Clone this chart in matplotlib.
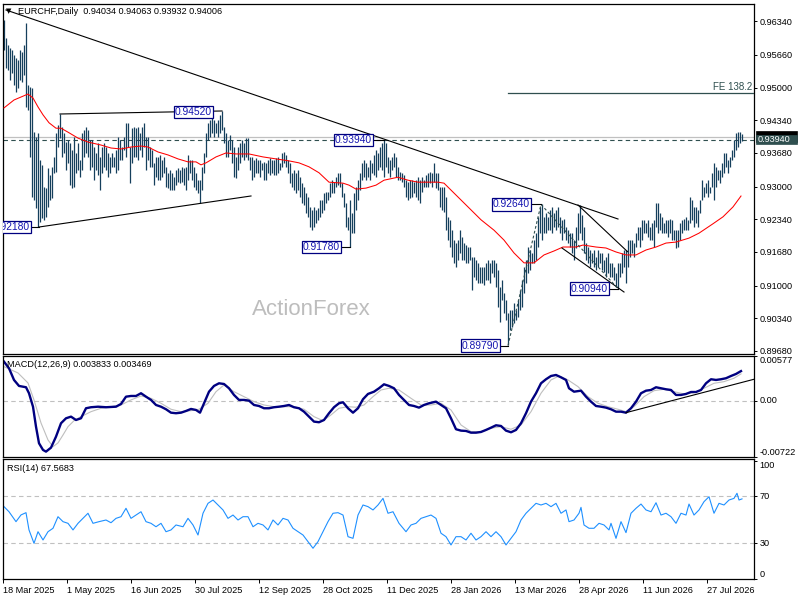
import numpy as np
import matplotlib
matplotlib.use('Agg')
import matplotlib.pyplot as plt
import matplotlib.transforms as mtransforms
from matplotlib.patches import Rectangle

plt.rcParams['font.family'] = ['Liberation Sans', 'DejaVu Sans']

# ---- daily bars, prices in 1e-4 (pips) ----
bar_high = [
    9637, 9600, 9586, 9580, 9576, 9566, 9560, 9556, 9576, 9572,
    9586, 9631, 9505, 9501, 9499, 9410, 9400, 9408, 9354, 9344,
    9299, 9297, 9338, 9324, 9340, 9360, 9408, 9425, 9447, 9420,
    9408, 9390, 9394, 9388, 9374, 9400, 9368, 9388, 9354, 9408,
    9414, 9420, 9414, 9394, 9394, 9380, 9368, 9388, 9360, 9380,
    9388, 9380, 9368, 9360, 9368, 9360, 9374, 9400, 9394, 9380,
    9400, 9428, 9428, 9380, 9418, 9420, 9418, 9420, 9408, 9420,
    9428, 9400, 9400, 9380, 9374, 9348, 9360, 9360, 9364, 9354,
    9360, 9340, 9328, 9334, 9328, 9319, 9334, 9338, 9334, 9340,
    9338, 9340, 9364, 9354, 9354, 9340, 9328, 9313, 9313, 9340,
    9368, 9408, 9428, 9435, 9441, 9435, 9428, 9435, 9445, 9453,
    9420, 9408, 9394, 9404, 9394, 9380, 9360, 9380, 9388, 9394,
    9388, 9398, 9398, 9360, 9360, 9354, 9358, 9354, 9354, 9348,
    9350, 9348, 9354, 9358, 9354, 9354, 9358, 9360, 9348, 9368,
    9370, 9364, 9354, 9348, 9328, 9334, 9328, 9334, 9319, 9307,
    9299, 9287, 9279, 9259, 9253, 9259, 9253, 9257, 9273, 9273,
    9287, 9289, 9289, 9307, 9313, 9309, 9319, 9328, 9328, 9307,
    9287, 9267, 9239, 9273, 9247, 9287, 9299, 9313, 9328, 9348,
    9354, 9348, 9340, 9354, 9348, 9364, 9374, 9368, 9380, 9388,
    9394, 9388, 9360, 9354, 9360, 9368, 9360, 9340, 9330, 9328,
    9324, 9313, 9309, 9313, 9313, 9309, 9313, 9319, 9313, 9319,
    9313, 9324, 9328, 9330, 9328, 9348, 9328, 9328, 9299, 9299,
    9299, 9279, 9239, 9233, 9212, 9192, 9186, 9192, 9212, 9198,
    9186, 9182, 9178, 9178, 9158, 9158, 9152, 9146, 9138, 9138,
    9138, 9146, 9152, 9146, 9152, 9152, 9146, 9132, 9097, 9111,
    9085, 9071, 9045, 9051, 9051, 9065, 9051, 9071, 9091, 9111,
    9138, 9152, 9178, 9172, 9166, 9192, 9206, 9239, 9259, 9264,
    9239, 9247, 9239, 9253, 9259, 9247, 9253, 9259, 9239, 9233,
    9235, 9218, 9212, 9206, 9206, 9192, 9218, 9247, 9263, 9243,
    9218, 9186, 9178, 9172, 9166, 9172, 9158, 9172, 9166, 9166,
    9152, 9158, 9166, 9146, 9146, 9138, 9126, 9146, 9146, 9166,
    9172, 9172, 9192, 9192, 9192, 9186, 9206, 9218, 9218, 9233,
    9233, 9227, 9233, 9218, 9227, 9233, 9267, 9267, 9247, 9239,
    9227, 9233, 9233, 9235, 9233, 9212, 9212, 9212, 9227, 9233,
    9235, 9239, 9233, 9279, 9273, 9259, 9259, 9253, 9273, 9313,
    9299, 9307, 9313, 9299, 9328, 9348, 9340, 9334, 9334, 9348,
    9368, 9368, 9354, 9360, 9374, 9394, 9408, 9410, 9410, 9406,
]
bar_low = [
    9576, 9540, 9536, 9515, 9530, 9505, 9491, 9499, 9515, 9511,
    9526, 9461, 9455, 9360, 9279, 9273, 9257, 9218, 9229, 9237,
    9233, 9239, 9259, 9273, 9277, 9328, 9330, 9380, 9398, 9360,
    9368, 9334, 9348, 9303, 9297, 9299, 9328, 9334, 9319, 9334,
    9360, 9368, 9360, 9334, 9340, 9313, 9334, 9324, 9293, 9328,
    9340, 9334, 9319, 9328, 9340, 9340, 9328, 9334, 9354, 9354,
    9374, 9360, 9380, 9307, 9348, 9360, 9360, 9354, 9374, 9360,
    9380, 9334, 9354, 9340, 9340, 9303, 9319, 9313, 9313, 9319,
    9328, 9299, 9297, 9293, 9293, 9293, 9303, 9309, 9307, 9309,
    9303, 9293, 9313, 9328, 9313, 9299, 9293, 9287, 9267, 9293,
    9328, 9360, 9394, 9400, 9408, 9400, 9408, 9400, 9408, 9414,
    9388, 9360, 9360, 9374, 9348, 9319, 9317, 9334, 9348, 9360,
    9354, 9360, 9354, 9334, 9313, 9319, 9328, 9328, 9319, 9334,
    9313, 9313, 9328, 9324, 9328, 9324, 9324, 9328, 9334, 9340,
    9348, 9340, 9328, 9307, 9299, 9293, 9287, 9293, 9279, 9267,
    9263, 9247, 9239, 9218, 9212, 9218, 9227, 9233, 9239, 9247,
    9253, 9267, 9273, 9279, 9287, 9287, 9299, 9303, 9299, 9279,
    9259, 9218, 9212, 9178, 9206, 9206, 9253, 9273, 9293, 9313,
    9319, 9313, 9319, 9313, 9328, 9324, 9319, 9334, 9340, 9334,
    9319, 9340, 9328, 9319, 9334, 9340, 9319, 9313, 9313, 9309,
    9299, 9279, 9273, 9277, 9279, 9287, 9279, 9273, 9267, 9289,
    9299, 9299, 9299, 9307, 9299, 9309, 9297, 9293, 9259, 9253,
    9249, 9212, 9192, 9178, 9158, 9146, 9138, 9152, 9166, 9152,
    9152, 9146, 9146, 9152, 9091, 9118, 9111, 9105, 9105, 9105,
    9101, 9111, 9111, 9105, 9126, 9118, 9097, 9057, 9027, 9071,
    9045, 9031, 8980, 9010, 9017, 9025, 9031, 9037, 9051, 9057,
    9085, 9105, 9126, 9132, 9146, 9146, 9152, 9178, 9206, 9192,
    9206, 9206, 9212, 9212, 9206, 9218, 9212, 9218, 9206, 9192,
    9206, 9192, 9186, 9178, 9166, 9152, 9176, 9192, 9206, 9192,
    9166, 9152, 9146, 9138, 9146, 9138, 9132, 9138, 9146, 9132,
    9128, 9118, 9126, 9118, 9118, 9111, 9097, 9094, 9118, 9126,
    9138, 9105, 9138, 9158, 9166, 9158, 9178, 9192, 9178, 9192,
    9206, 9206, 9198, 9192, 9192, 9178, 9218, 9206, 9212, 9206,
    9206, 9206, 9198, 9206, 9192, 9192, 9176, 9178, 9192, 9206,
    9212, 9212, 9212, 9227, 9233, 9218, 9227, 9218, 9247, 9273,
    9279, 9287, 9279, 9287, 9299, 9273, 9299, 9313, 9307, 9319,
    9328, 9340, 9328, 9340, 9354, 9360, 9374, 9380, 9388, 9393,
]

# red moving average (bar index, price in pips)
ma_idx = [0, 5, 12, 14.5, 17, 19.5, 22.5, 26, 28.5, 32, 37, 42, 48.5, 53.5, 58.5,
          63.5, 68.5, 72, 77, 82, 87, 92, 96, 98.5, 101, 106, 111, 116, 122.5,
          129.5, 136, 142.5, 147.5, 152.5, 157.5, 162.5, 169.5, 172.5, 176, 181,
          186, 190, 197, 202, 207, 217, 220, 225, 232, 238.5, 245, 250, 255, 260,
          265, 270, 275, 279.5, 286, 289.5, 296, 301, 306, 311, 316, 321, 326,
          331, 336, 342.5, 347.5, 354.5, 359.5, 364.5, 368.5]
ma_val = [9459, 9475, 9487, 9479, 9461, 9445, 9429, 9418, 9418, 9410, 9398, 9390,
          9384, 9378, 9376, 9380, 9382, 9380, 9370, 9364, 9356, 9350, 9350, 9344,
          9348, 9360, 9368, 9366, 9366, 9360, 9356, 9352, 9348, 9340, 9328, 9309,
          9307, 9303, 9295, 9297, 9303, 9313, 9319, 9313, 9309, 9309, 9307, 9287,
          9259, 9233, 9212, 9192, 9166, 9146, 9146, 9162, 9170, 9178, 9178, 9182,
          9178, 9176, 9168, 9162, 9162, 9172, 9178, 9186, 9188, 9196, 9206, 9225,
          9239, 9259, 9281]

# MACD main line (1e-4)
macd_idx = [0, 2.5, 5, 7.5, 11, 12.5, 14.5, 16, 17.5, 19.5, 21, 23.5, 26, 28.5, 31,
            33.5, 36, 38.5, 41, 43.5, 47, 51, 56, 58.5, 61, 63.5, 66, 68.5, 71, 73.5,
            76, 78.5, 81, 83.5, 86, 88.5, 91, 93.5, 96, 98, 100, 102.5, 105, 107.5,
            110, 112.5, 115, 117.5, 120, 122.5, 125, 127.5, 130, 132.5, 135, 137.5,
            140, 142.5, 145, 147.5, 150, 152.5, 155, 157.5, 160, 162.5, 165, 167.5,
            169.5, 172, 174.5, 177, 179.5, 182, 185, 187.5, 190, 192.5, 195, 197.5,
            200, 202.5, 205, 207.5, 210, 212.5, 216, 218.5, 221, 223.5, 226, 228.5,
            231, 233.5, 236, 238.5, 241, 243.5, 246, 248.5, 251, 253.5, 256, 258.5,
            261, 263.5, 266, 268.5, 271, 273.5, 276, 278.5, 281, 282.5, 285, 288.5,
            291, 293.5, 296, 298.5, 301, 303.5, 306, 308.5, 311, 313.5, 316, 318.5,
            321, 323.5, 326, 328.5, 331, 333.5, 336, 338.5, 341, 343.5, 346, 348.5,
            351, 353.5, 356, 358.5, 361, 363.5, 366, 368.5]
macd_val = [50.4, 41.9, 26.9, 19.2, 17.5, 9.8, -7.5, -33.2, -54.5, -63.1, -65.3,
            -60.2, -46, -28.8, -22.4, -20.3, -24.6, -22.4, -9.5, -8.2, -7.5, -8.2,
            -7.5, -4, 5.4, 6.3, 6.3, 9.8, 5.4, 1.2, -5.3, -7.5, -10.8, -15.2, -15.9,
            -15.2, -13, -10.4, -11.7, -15.2, -3.1, 11.8, 19.2, 22.6, 21.7, 16.2, 7.6,
            1.2, 1.2, 0.3, -5.3, -6.6, -9.5, -9.5, -8.2, -7.5, -6.6, -5.3, -8.2,
            -9.5, -13.9, -20.3, -26.7, -27.5, -24.6, -15.9, -8.2, -3.1, -1.8, -9.5,
            -15.2, -9.5, 2.1, 8.9, 11.8, 16.2, 21.3, 19.2, 16.2, 7.6, 1.2, -5.3,
            -6.6, -8.7, -5.3, -3.1, -1, -5.3, -9.5, -22.4, -36.5, -38.3, -38.7,
            -40.9, -40.9, -40, -37.4, -34.5, -31.4, -32.3, -38.3, -40.4, -37.4,
            -28.8, -15.9, -1, 9.8, 22.6, 27.8, 32, 33.3, 30.3, 26.9, 16.2, 11.8,
            13.1, 5.4, -1, -6.6, -7.5, -8.7, -10.8, -13.9, -13.9, -15.2, -9.5, -1,
            9.8, 13.1, 14, 17.5, 16.2, 14.9, 14, 7.6, 7.6, 8.9, 11.4, 11.4, 14,
            22.6, 27.8, 26.9, 27.8, 29.1, 32, 34.6, 38.3]

# MACD signal line (1e-4)
signal_idx = [0, 7, 12, 15, 18.5, 22, 24.5, 27, 29.5, 32, 35, 38.5, 43.5, 48.5,
              53.5, 58.5, 63.5, 68.5, 73.5, 78.5, 83.5, 88.5, 93.5, 97.5, 102, 106,
              110, 115, 120, 125, 130, 135, 140, 145, 150, 155, 159.5, 163.5, 167.5,
              172, 176, 180, 184.5, 188.5, 192.5, 197.5, 203.5, 208.5, 213.5, 218.5,
              223.5, 228.5, 233.5, 238.5, 243.5, 248.5, 253.5, 258.5, 263.5, 268.5,
              273.5, 277.5, 282, 287, 292, 297, 302, 307, 311, 315, 320, 325, 330,
              335, 340, 345, 350, 355, 360, 365, 368.5]
signal_val = [44, 35.9, 23, 1.2, -28.4, -50.3, -58.9, -54.1, -43.9, -33.2, -25.5,
              -20.3, -13.9, -9.5, -7.5, -5.3, 1.2, 6.3, 3.3, -3.1, -10.8, -13.9,
              -12.6, -10.8, -3.1, 11.8, 20.4, 11.8, 5.4, -1, -5.3, -7.5, -7.5, -7.5,
              -10.8, -20.3, -25.5, -18.1, -9.5, -7.5, -8.2, -5.3, 5.4, 14, 16.2, 14,
              3.3, -5.3, -5.3, -3.1, -11.7, -31, -39.6, -39.6, -35.2, -33.2, -36.5,
              -31, -13.9, 9.8, 26.9, 32, 26.9, 18.3, 5.4, -3.1, -7.5, -10.8, -13.9,
              -7.5, 5.4, 13.1, 14.9, 11.8, 8.9, 10.5, 16.2, 22.6, 24.7, 29.1, 34.7]

# RSI(14)
rsi_idx = [0, 2.5, 6, 8.5, 11, 12.5, 15, 17, 19.5, 22, 24.5, 27, 29.5, 32, 34.5, 37,
           39.5, 42, 44.5, 47.5, 51, 53.5, 56, 58.5, 61, 63.5, 66, 68.5, 71, 73.5,
           76, 78.5, 81, 83.5, 86, 89.5, 92, 94.5, 97, 99.5, 102, 104.5, 107, 109.5,
           112, 114.5, 117, 119.5, 122, 124.5, 127, 129.5, 132, 134.5, 137, 139.5,
           142, 144.5, 147, 149.5, 152, 154.5, 157, 159.5, 162, 164.5, 167, 169.5,
           172, 174.5, 177, 179.5, 182, 184.5, 187, 189.5, 192, 194.5, 197.5, 201,
           203.5, 206, 208.5, 211, 213.5, 216, 218.5, 221, 223.5, 226, 228.5, 231,
           233.5, 236, 238.5, 241, 243.5, 246, 248.5, 251, 253.5, 256, 258.5, 261,
           263.5, 266, 268.5, 271, 273.5, 276, 278.5, 281, 282.5, 285, 287.5, 288.5,
           290, 292.5, 295, 297.5, 300, 302.5, 303.5, 306, 308.5, 311, 313.5, 316,
           318.5, 321, 323.5, 326, 328.5, 331, 333.5, 336, 338.5, 341, 342.5, 345,
           347.5, 350, 352.5, 355, 357.5, 360, 362.5, 365, 366.5, 367.5, 369]
rsi_val = [61, 56.7, 48.3, 54, 55.9, 41.3, 30, 39.8, 32.8, 39.8, 42.7, 52.5, 48.3,
           46.9, 41.3, 46.9, 51.1, 55.4, 46.9, 48.3, 49.7, 47.4, 51.1, 52.5, 59.6,
           51.1, 53.9, 56.7, 48.3, 46.9, 44, 46.9, 39.8, 41.3, 45.5, 44, 51.1, 45.5,
           37, 55.4, 63.8, 66.6, 62.4, 58.2, 51.1, 53.9, 49.7, 52.5, 52.5, 44, 46.9,
           45.5, 41.3, 49.7, 45.5, 51.1, 49.7, 42.7, 39.8, 37, 31.4, 25.8, 31.4,
           39.8, 48.3, 55.4, 55.9, 53.9, 35.6, 34.2, 53.9, 62.4, 61, 58.2, 62.4, 68,
           55.4, 56.7, 46.9, 39.8, 45.5, 46.9, 51.1, 52.5, 53.9, 51.1, 38.5, 35.6,
           28.6, 35.6, 35.6, 32.8, 38.5, 32.8, 35.6, 39.8, 35.6, 39.8, 35.6, 28.6,
           34.2, 39.8, 49.7, 55.4, 59.6, 63.8, 62.4, 63.8, 61, 63.8, 55.4, 58.2,
           48.3, 49.7, 55.4, 60.4, 45.5, 42.7, 42.7, 46.9, 45.5, 41.3, 46.9, 34.2,
           48.3, 39, 55.4, 59.6, 63.2, 58.2, 56.7, 64.3, 53.9, 55.4, 52.5, 46.9,
           55.4, 53.9, 63.2, 53.9, 58.2, 65.2, 69.4, 55.4, 63.8, 62.4, 66.6, 68,
           72.3, 66.6, 67.57]

date_labels = ['18 Mar 2025', '1 May 2025', '16 Jun 2025', '30 Jul 2025',
               '12 Sep 2025', '28 Oct 2025', '11 Dec 2025', '28 Jan 2026',
               '13 Mar 2026', '28 Apr 2026', '11 Jun 2026', '27 Jul 2026']
price_ticks = [0.96340, 0.95660, 0.95000, 0.94340, 0.93680, 0.93000,
               0.92340, 0.91680, 0.91000, 0.90340, 0.89680]

# drawn objects (bar index, price)
trend_down = [(1, 0.96568), (307, 0.92346)]
tri_support = [(17.5, 0.92184), (123.5, 0.92811)]
tri_resist = [(28, 0.94467), (109, 0.94528)]
wedge_top = [(287, 0.92629), (311.8, 0.91685)]
wedge_bottom = [(279, 0.91760), (310, 0.90871)]
fe_points = [(252, 0.8979), (268.5, 0.9264), (307, 0.9094)]
fe_level = 0.94885
macd_trend = [(311, -0.001518), (375, 0.002778)]
# (text, right edge idx, price, anchor idx)
tags = [('0.92180', 13, 0.9218, 17.5), ('0.94520', 104, 0.94508, 104),
        ('0.93940', 184, 0.9394, 190), ('0.91780', 168, 0.9178, 173),
        ('0.89790', 247.5, 0.8979, 252), ('0.92640', 263, 0.9264, 268.5),
        ('0.90940', 302, 0.9094, 307)]
bid_price = 0.94006
level_price = 0.9394

BAR_COLOR = '#153F5C'
SLATE = '#2F4F4F'
FS = 6.6


def px_box(left, top, right, bottom):
    return [left / 800, 1 - bottom / 600, (right - left) / 800, (bottom - top) / 600]


fig = plt.figure(figsize=(8, 6), dpi=100)
ax_main = fig.add_axes(px_box(3, 4, 754, 354))
ax_macd = fig.add_axes(px_box(3, 356, 754, 457))
ax_rsi = fig.add_axes(px_box(3, 459, 754, 579))

for ax in (ax_main, ax_macd, ax_rsi):
    ax.set_xlim(-0.5, 375)
    ax.yaxis.tick_right()
    ax.tick_params(axis='y', direction='out', length=2.2, width=0.7, pad=2, labelsize=FS)
    for sp in ax.spines.values():
        sp.set_linewidth(0.9)
for ax in (ax_main, ax_macd):
    ax.set_xticks([])

# ---- main chart ----
idx = np.arange(len(bar_high))
highs = np.array(bar_high) / 10000
lows = np.array(bar_low) / 10000
ax_main.set_ylim(0.89619, 0.96689)
ax_main.set_yticks(price_ticks)
ax_main.set_yticklabels(['%.5f' % p for p in price_ticks])

ax_main.axhline(bid_price, color='#C0C0C0', lw=0.9, zorder=1)
ax_main.axhline(level_price, color=SLATE, lw=0.8, ls=(0, (4, 3)), zorder=1)
ax_main.vlines(idx, lows, highs, colors=BAR_COLOR, lw=0.9, zorder=2)
ax_main.plot(ma_idx, np.array(ma_val) / 10000, color='#FF0000', lw=0.75, zorder=3)

for line in (trend_down, tri_support, tri_resist, wedge_top, wedge_bottom):
    xs, ys = zip(*line)
    ax_main.plot(xs, ys, color='black', lw=0.8, zorder=4)
xs, ys = zip(*fe_points)
ax_main.plot(xs, ys, color=SLATE, lw=0.8, ls=(0, (2.5, 2)), zorder=4)
ax_main.plot([fe_points[0][0], 375], [fe_level, fe_level], color=SLATE, lw=0.9, zorder=4)
ax_main.text(374, fe_level + 0.0003, 'FE 138.2', ha='right', va='bottom',
             fontsize=FS + 0.4, color=SLATE)

for text, right, price, anchor in tags:
    if anchor > right:
        ax_main.plot([right, anchor], [price, price], color='black', lw=0.8, zorder=4)
    ax_main.text(right, price, text, ha='right', va='center', fontsize=7.4,
                 color='#1515B0', zorder=6, clip_on=True,
                 bbox=dict(boxstyle='square,pad=0.12', fc='white', ec='#000080', lw=0.9))

ax_main.text(0.41, 0.126, 'ActionForex', transform=ax_main.transAxes, fontsize=16,
             color='#BDBDBD', ha='center', va='center', zorder=1)

# price markers on the scale: bid (mostly hidden) under the level marker
blend = mtransforms.blended_transform_factory(ax_main.transAxes, ax_main.transData)
ax_main.add_patch(Rectangle((1.0027, bid_price - 0.0011), 0.0546, 0.0022,
                            transform=blend, fc='black', ec='black', lw=0.5,
                            clip_on=False, zorder=7))
ax_main.add_patch(Rectangle((1.0027, 0.93861), 0.0546, 0.00188,
                            transform=blend, fc=SLATE, ec=SLATE, lw=0.5,
                            clip_on=False, zorder=8))
ax_main.text(1.0045, 0.93955, '0.93940', transform=blend, ha='left', va='center',
             fontsize=FS, color='white', zorder=9)

fig.text(6 / 800, 1 - 11 / 600, '\u25bc', fontsize=5, va='center', ha='left',
         family=['DejaVu Sans'])
fig.text(18 / 800, 1 - 11 / 600, 'EURCHF,Daily  0.94034 0.94063 0.93932 0.94006',
         fontsize=FS, va='center', ha='left')

# ---- MACD ----
ax_macd.set_ylim(-0.00722, 0.00577)
ax_macd.axhline(0, color='#C0C0C0', lw=0.8, ls=(0, (4, 3)))
ax_macd.plot(signal_idx, np.array(signal_val) / 10000, color='#BEBEBE', lw=0.8)
ax_macd.plot(macd_idx, np.array(macd_val) / 10000, color='#000080', lw=1.7)
xs, ys = zip(*macd_trend)
ax_macd.plot(xs, ys, color='black', lw=0.8)
ax_macd.set_yticks([0.00577, 0.0, -0.00722])
ax_macd.set_yticklabels(['0.00577', '0.00', '-0.00722'])
for lab, va in zip(ax_macd.get_yticklabels(), ['top', 'center', 'bottom']):
    lab.set_va(va)
ax_macd.text(0.0053, 0.911, 'MACD(12,26,9) 0.003833 0.003469', transform=ax_macd.transAxes,
             fontsize=FS, va='center', ha='left')

# ---- RSI ----
ax_rsi.set_ylim(-0.2, 101.3)
for lvl in (70, 30):
    ax_rsi.axhline(lvl, color='#C0C0C0', lw=0.8, ls=(0, (4, 3)))
ax_rsi.plot(rsi_idx, rsi_val, color='#1E90FF', lw=0.8)
ax_rsi.set_yticks([100, 70, 30, 0])
ax_rsi.set_yticklabels(['100', '70', '30', '0'])
for lab, va in zip(ax_rsi.get_yticklabels(), ['top', 'center', 'center', 'bottom']):
    lab.set_va(va)
ax_rsi.text(0.0053, 0.9225, 'RSI(14) 67.5683', transform=ax_rsi.transAxes,
            fontsize=FS, va='center', ha='left')

ax_rsi.set_xticks([32 * k - 0.5 for k in range(len(date_labels))])
ax_rsi.set_xticklabels(date_labels, ha='left')
ax_rsi.tick_params(axis='x', direction='out', length=3, width=0.7, pad=2, labelsize=FS)

fig.savefig('out.png', dpi=100)
